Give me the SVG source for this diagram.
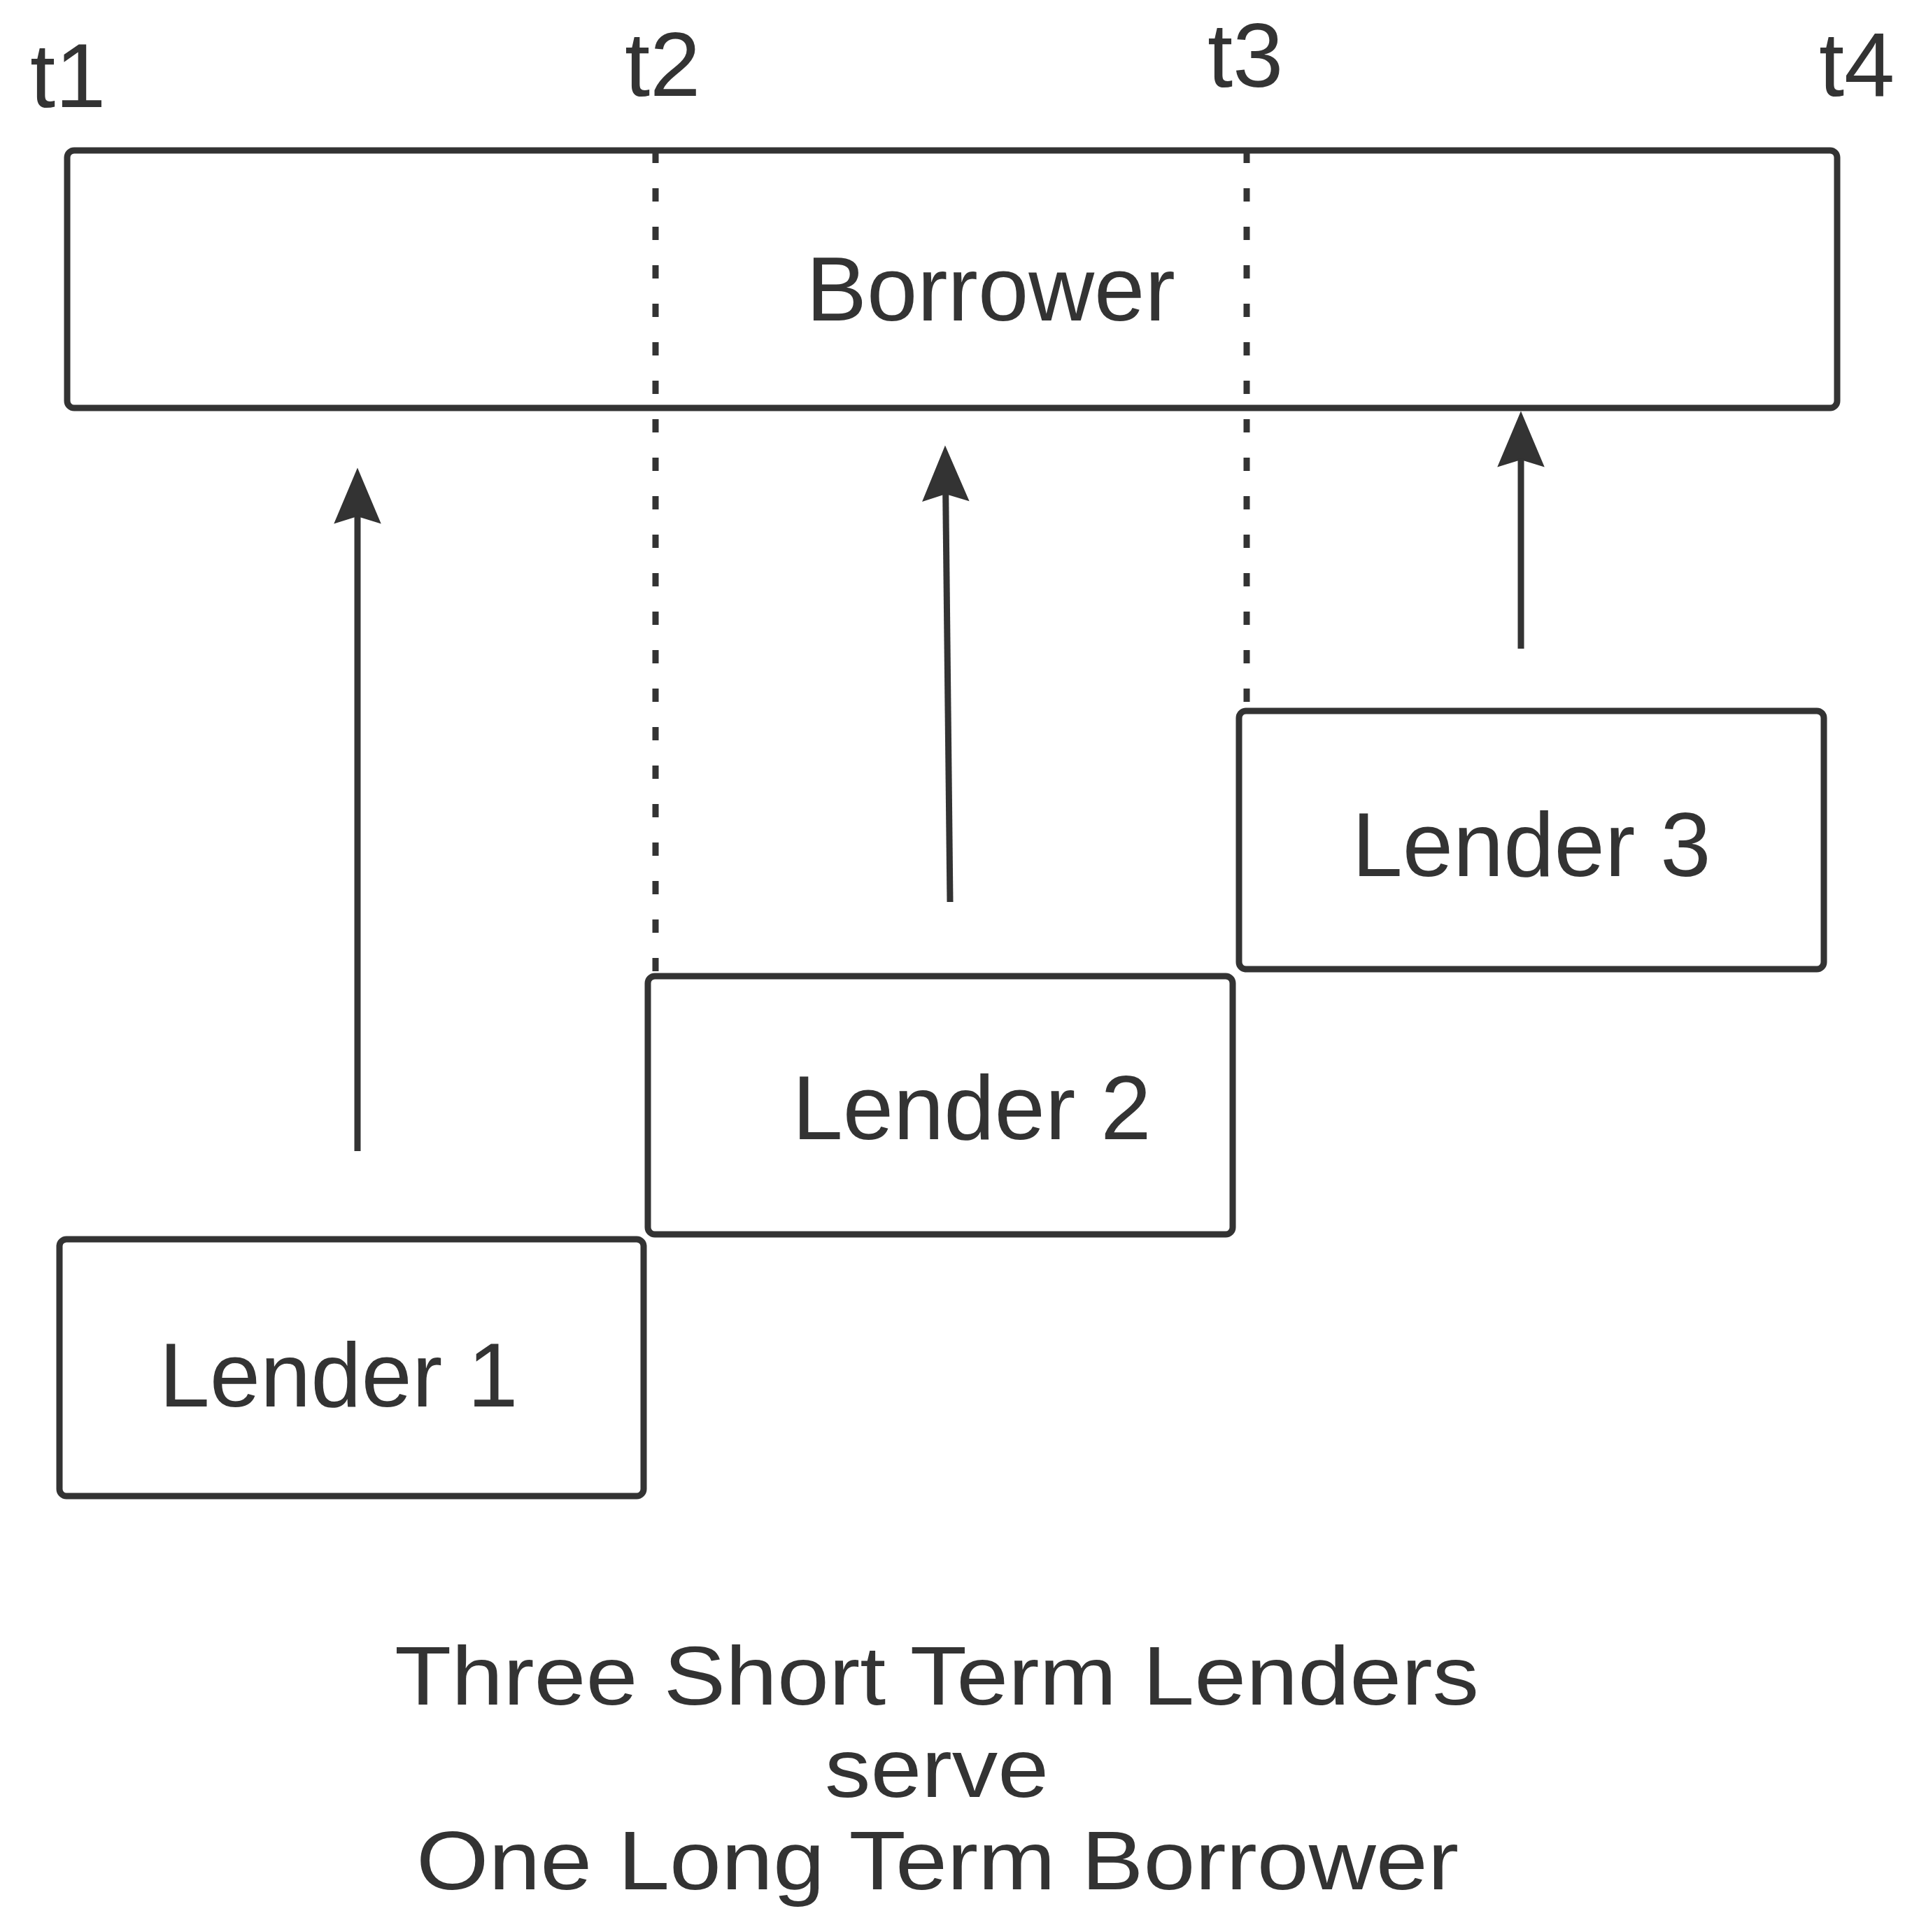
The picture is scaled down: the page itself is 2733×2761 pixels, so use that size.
<svg xmlns="http://www.w3.org/2000/svg" width="2733" height="2761" viewBox="0 0 2733 2761">
  <style>
    .box { fill: #ffffff; stroke: #333333; stroke-width: 9; }
    .lbl { font-family: "Liberation Sans", Arial, Helvetica, sans-serif; font-size: 130px; fill: #333333; }
    .cap { font-family: "Liberation Sans", Arial, Helvetica, sans-serif; font-size: 118px; fill: #333333; text-anchor: middle; }
    .mid { text-anchor: middle; }
    .dash { stroke: #333333; stroke-width: 9; stroke-dasharray: 19 36; fill: none; }
    .arrow { stroke: #333333; stroke-width: 9; fill: none; marker-end: url(#head); }
  </style>
  <defs>
    <marker id="head" markerUnits="userSpaceOnUse" orient="auto" refX="-66" refY="0" markerWidth="200" markerHeight="200" overflow="visible">
      <path d="M0,0 L-76,-32 L-66,0 L-76,32 Z" fill="#333333" stroke="#333333" stroke-width="2" stroke-linejoin="miter"/>
    </marker>
  </defs>
  <rect width="2733" height="2761" fill="#ffffff"/>

  <g id="time-labels">
    <text class="lbl" x="43" y="153">t1</text>
    <text class="lbl" x="893" y="137">t2</text>
    <text class="lbl" x="1726" y="124">t3</text>
    <text class="lbl" x="2600" y="137">t4</text>
  </g>

  <g id="borrower">
    <rect class="box" x="96" y="215" width="2530" height="368" rx="10" ry="10"/>
    <text class="lbl mid" x="1416" y="458">Borrower</text>
  </g>

  <g id="lender1">
    <rect class="box" x="85" y="1771" width="835" height="367" rx="10" ry="10"/>
    <text class="lbl mid" x="484" y="2010">Lender 1</text>
  </g>

  <g id="lender2">
    <rect class="box" x="926" y="1395" width="836" height="369" rx="10" ry="10"/>
    <text class="lbl mid" x="1389" y="1628">Lender 2</text>
  </g>

  <g id="lender3">
    <rect class="box" x="1771" y="1016" width="836" height="369" rx="10" ry="10"/>
    <text class="lbl mid" x="2189" y="1252">Lender 3</text>
  </g>

  <g id="connectors">
    <line class="dash" x1="937" y1="214" x2="937" y2="1395"/>
    <line class="dash" x1="1782" y1="214" x2="1782" y2="1016"/>
    <line class="arrow" x1="511" y1="1645" x2="511" y2="737"/>
    <line class="arrow" x1="1358" y1="1289" x2="1351.7" y2="705"/>
    <line class="arrow" x1="2174" y1="927" x2="2174" y2="656"/>
  </g>

  <g id="caption">
    <text class="cap" x="1339" y="2436" textLength="1550" lengthAdjust="spacingAndGlyphs">Three Short Term Lenders</text>
    <text class="cap" x="1339" y="2568" textLength="320" lengthAdjust="spacingAndGlyphs">serve</text>
    <text class="cap" x="1340" y="2700" textLength="1490" lengthAdjust="spacingAndGlyphs">One Long Term Borrower</text>
  </g>
</svg>
